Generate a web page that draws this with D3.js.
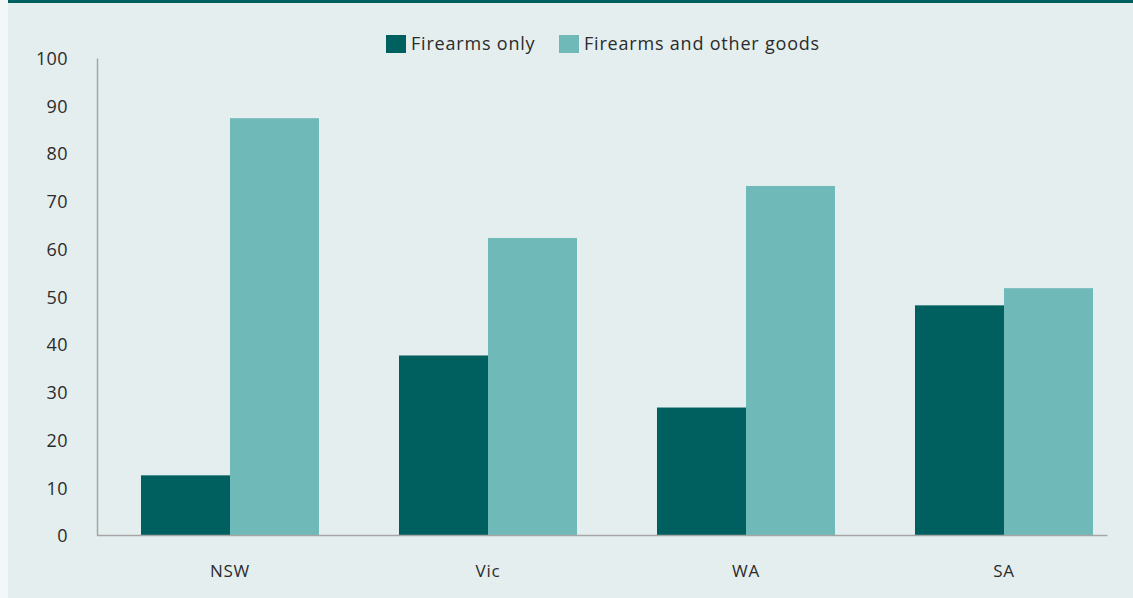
<!DOCTYPE html>
<html>
<head>
<meta charset="utf-8">
<script src="https://cdn.jsdelivr.net/npm/d3@7"></script>
<style>
  body { margin: 0; background: #f3f7f7; }
  text { font-family: "Open Sans", sans-serif; fill: #2b2b2b; }
</style>
</head>
<body>
<div id="chart"></div>
<script>
const states = ['NSW', 'Vic', 'WA', 'SA'];
const firearmsOnly = [12.6, 37.7, 26.8, 48.2];
const firearmsOther = [87.4, 62.3, 73.2, 51.8];
const seriesNames = ['Firearms only', 'Firearms and other goods'];
const yTicks = [0, 10, 20, 30, 40, 50, 60, 70, 80, 90, 100];

const w = 1133;
const h = 598;
const colors = ['#006060', '#6fbab8'];

const svg = d3.select('#chart')
    .append('svg')
    .attr('width', w)
    .attr('height', h)

svg.append('rect')
    .attr('x', 8).attr('y', 0)
    .attr('width', w - 8).attr('height', h)
    .attr('fill', '#e4eeee')
svg.append('rect')
    .attr('x', 8).attr('y', 0)
    .attr('width', w - 8).attr('height', 3)
    .attr('fill', '#006060')

const yScale = d3.scaleLinear()
    .domain([0, 100])
    .range([535.5, 58]);

const xScale = d3.scaleBand()
    .domain(states)
    .range([101, 1133])
    .paddingInner(0.31)
    .paddingOuter(0.155);

const inner = d3.scaleBand()
    .domain([0, 1])
    .range([0, xScale.bandwidth()]);

const data = states.map((s, i) => ({ state: s, values: [firearmsOnly[i], firearmsOther[i]] }));

svg.selectAll('g.group')
    .data(data)
    .enter()
    .append('g')
    .attr('class', 'group')
    .attr('transform', d => 'translate(' + xScale(d.state) + ',0)')
    .selectAll('rect')
    .data(d => d.values)
    .enter()
    .append('rect')
    .attr('x', (d, i) => inner(i))
    .attr('width', inner.bandwidth())
    .attr('y', d => yScale(d))
    .attr('height', d => yScale(0) - yScale(d))
    .attr('fill', (d, i) => colors[i])

// y axis
const yAxis = d3.axisLeft(yScale).tickValues(yTicks).tickSize(0).tickPadding(29);
const yg = svg.append('g')
    .attr('transform', 'translate(97,0)')
    .call(yAxis)
yg.select('.domain').attr('stroke', '#a6a6a6').attr('stroke-width', 1.5)
yg.selectAll('text').style('font-size', '18px').style('letter-spacing', '0.4px').attr('dy', '0.35em')

// x axis
const xAxis = d3.axisBottom(xScale).tickSize(0).tickPadding(29);
const xg = svg.append('g')
    .attr('transform', 'translate(0,535.5)')
    .call(xAxis)
xg.select('.domain').remove()
xg.selectAll('text').style('font-size', '17px').style('letter-spacing', '0.8px')
xg.selectAll('.tick').attr('transform', d => 'translate(' + (xScale(d) + xScale.bandwidth() / 2) + ',0)')
svg.append('line')
    .attr('x1', 97).attr('x2', 1107.5)
    .attr('y1', 535.5).attr('y2', 535.5)
    .attr('stroke', '#a6a6a6')
    .attr('stroke-width', 1.5)

// legend
const legendX = [386, 559];
seriesNames.forEach((name, i) => {
    svg.append('rect')
        .attr('x', legendX[i]).attr('y', 35)
        .attr('width', 20).attr('height', 18)
        .attr('fill', colors[i])
    svg.append('text')
        .attr('x', legendX[i] + 25)
        .attr('y', 50)
        .style('font-size', '18px')
        .style('letter-spacing', '0.8px')
        .text(name)
})
</script>
</body>
</html>
